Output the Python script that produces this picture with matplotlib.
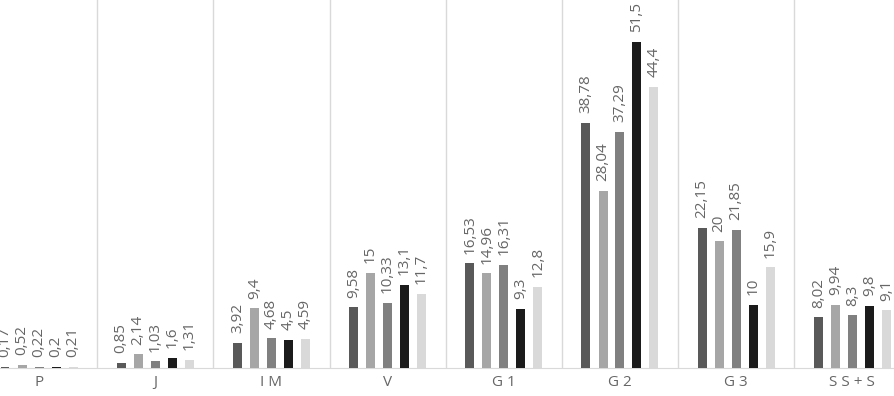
import matplotlib
matplotlib.use('Agg')
import matplotlib.pyplot as plt
import numpy as np

plt.rcParams['font.family'] = ['Open Sans', 'DejaVu Sans']

categories = ['P', 'J', 'I M', 'V', 'G 1', 'G 2', 'G 3', 'S S + S']
s1 = [0.17, 0.85, 3.92, 9.58, 16.53, 38.78, 22.15, 8.02]
s2 = [0.52, 2.14, 9.4, 15, 14.96, 28.04, 20, 9.94]
s3 = [0.22, 1.03, 4.68, 10.33, 16.31, 37.29, 21.85, 8.3]
s4 = [0.2, 1.6, 4.5, 13.1, 9.3, 51.5, 10, 9.8]
s5 = [0.21, 1.31, 4.59, 11.7, 12.8, 44.4, 15.9, 9.1]
series = [s1, s2, s3, s4, s5]
colors = ['#595959', '#a6a6a6', '#808080', '#1b1b1b', '#d9d9d9']

fig = plt.figure(figsize=(8.95, 3.96), dpi=100)
# axes spans whole width; the first category is cut at the left edge like the source
ax = fig.add_axes([0, 28/396, 1, 368/396])

x = np.arange(len(categories))
step = 17/116.2
w = 9/116.2
txtcol = '#666666'

for k, vals in enumerate(series):
	pos = x + (k-2)*step
	rects = ax.bar(pos, vals, width=w, color=colors[k], zorder=3)
	for r, v in zip(rects, vals):
		lbl = ('%g' % v).replace('.', ',')
		ax.annotate(lbl, (r.get_x()+r.get_width()/2, r.get_height()),
			xytext=(0, 7), textcoords='offset points', rotation=90,
			ha='center', va='bottom', fontsize=11, color=txtcol)

# separators between categories
for s in np.arange(-0.5, len(categories)+0.5):
	ax.axvline(s, color='#d9d9d9', linewidth=1, zorder=1)

ax.set_xlim(-39/116.2, (895-39)/116.2)
ax.set_ylim(0, 368/6.33)
ax.set_xticks(x)
ax.set_xticklabels(categories, fontsize=11, color=txtcol)
ax.tick_params(axis='x', length=0, pad=5)
ax.set_yticks([])
for sp in ['top', 'left', 'right']:
	ax.spines[sp].set_visible(False)
ax.spines['bottom'].set_color('#d9d9d9')

fig.savefig('out.png', dpi=100)
